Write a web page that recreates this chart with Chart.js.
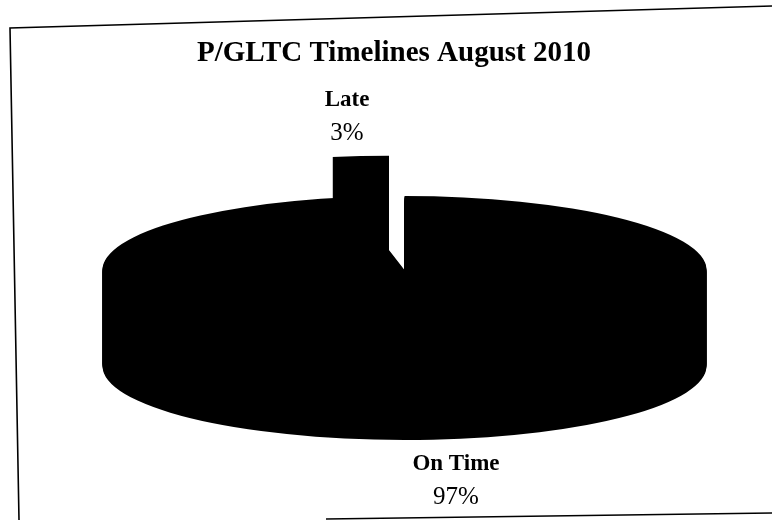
<!DOCTYPE html>
<html>
<head>
<meta charset="utf-8">
<title>P/GLTC Timelines August 2010</title>
<script src="https://cdn.jsdelivr.net/npm/chart.js@4"></script>
<style>
    html, body { margin: 0; padding: 0; background: #fff; overflow: hidden; }
    #box { position: relative; width: 788px; height: 520px; }
</style>
</head>
<body>
<div id="box"><canvas id="grafico-pizza"></canvas></div>
<script>
const categorias = ["On Time", "Late"];
const valores = [97, 3];
const rotulos = ["97%", "3%"];

// flattens the round pie into an ellipse and stacks copies of it for the depth
const pizza3d = {
    id: "pizza3d",
    beforeDatasetsDraw(chart, args, opts) {
        const ctx = chart.ctx;
        const arcs = chart.getDatasetMeta(0).data;
        for (let d = opts.profundidade; d >= 0; d--) {
            arcs.forEach(function (arc, i) {
                const meio = (arc.startAngle + arc.endAngle) / 2;
                const fora = opts.explosao[i];
                ctx.save();
                ctx.translate(opts.centroX - arc.x, opts.centroY + d);
                ctx.scale(1, opts.achatar);
                ctx.translate(Math.cos(meio) * fora, Math.sin(meio) * fora - arc.y);
                arc.draw(ctx);
                ctx.restore();
            });
        }
        return false;
    }
};

// slice labels and the scanned page frame
const rotulosFatias = {
    id: "rotulosFatias",
    afterDraw(chart, args, opts) {
        const ctx = chart.ctx;
        ctx.save();
        ctx.strokeStyle = "#000";
        ctx.lineWidth = 1.6;
        opts.moldura.forEach(function (l) {
            ctx.beginPath();
            l.forEach(function (p, i) {
                if (i === 0) ctx.moveTo(p[0], p[1]);
                else ctx.lineTo(p[0], p[1]);
            });
            ctx.stroke();
        });
        ctx.fillStyle = "#000";
        ctx.textAlign = "center";
        ctx.textBaseline = "middle";
        categorias.forEach(function (nome, i) {
            const pos = opts.posicoes[i];
            ctx.font = "bold 23px 'Liberation Serif'";
            ctx.fillText(nome, pos[0], pos[1]);
            ctx.font = "25px 'Liberation Serif'";
            ctx.fillText(rotulos[i], pos[0], pos[1] + 33);
        });
        ctx.restore();
    }
};

new Chart(document.getElementById("grafico-pizza"), {
    type: "pie",
    data: {
        labels: categorias,
        datasets: [{
            data: valores,
            backgroundColor: "#000",
            borderWidth: 0
        }]
    },
    options: {
        responsive: true,
        maintainAspectRatio: false,
        animation: false,
        radius: 302,
        plugins: {
            legend: { display: false },
            tooltip: { enabled: false },
            title: {
                display: true,
                text: "P/GLTC Timelines August 2010",
                color: "#000",
                font: { family: "'Liberation Serif'", size: 29, weight: "bold" },
                padding: { top: 36, bottom: 10 }
            },
            pizza3d: { centroX: 404.5, centroY: 270, achatar: 0.245, profundidade: 96, explosao: [0, 165] },
            rotulosFatias: {
                posicoes: [[456, 464], [347, 100]],
                moldura: [
                    [[19, 520], [10, 28], [772, 6]],
                    [[326, 519], [772, 513]]
                ]
            }
        }
    },
    plugins: [pizza3d, rotulosFatias]
});
</script>
</body>
</html>
